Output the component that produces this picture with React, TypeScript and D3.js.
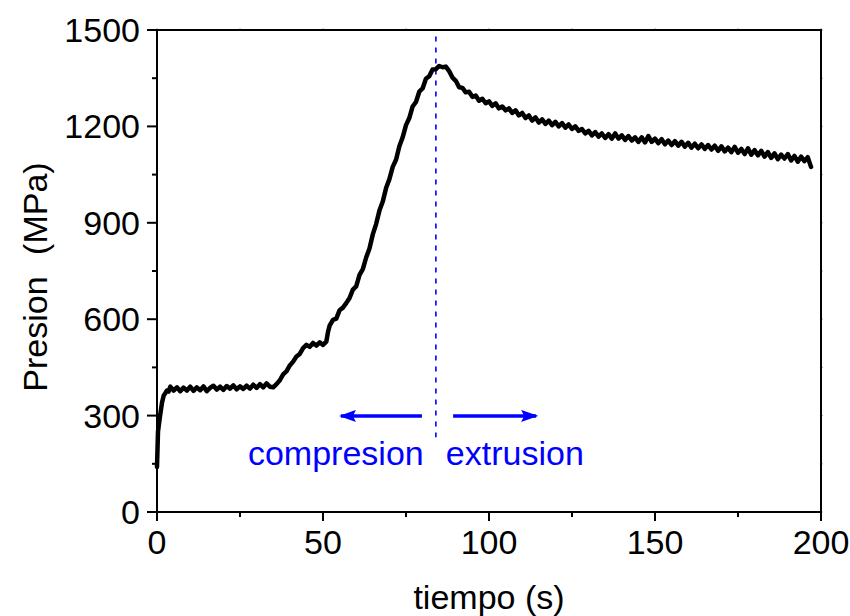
import React from "react";
import * as d3 from "d3";

const timeS: number[] = [
  0, 0.3, 0.8, 1.5, 2, 2.5, 3, 3.5, 4, 5, 6, 7, 8, 9, 10, 11, 12, 13, 14, 15, 16, 17, 18, 19, 20,
  21, 22, 23, 24, 25, 26, 27, 28, 29, 30, 31, 32, 33, 34, 35, 36, 37, 38, 39, 40, 41, 42, 43, 44,
  45, 46, 47, 48, 49, 50, 51, 51.5, 52, 53, 54, 55, 56, 57, 58, 59, 60, 61, 62, 63, 64, 65, 66,
  67, 68, 69, 70, 71, 72, 73, 74, 75, 76, 77, 78, 79, 80, 81, 82, 83, 84, 85, 86, 87, 88, 89, 90,
  91, 92, 93, 94, 95, 96, 97, 98, 99, 100, 101, 102, 103, 104, 105, 106, 107, 108, 109, 110, 111,
  112, 113, 114, 115, 116, 117, 118, 119, 120, 121, 122, 123, 124, 125, 126, 127, 128, 129, 130,
  131, 132, 133, 134, 135, 136, 137, 138, 139, 140, 141, 142, 143, 144, 145, 146, 147, 148, 149,
  150, 151, 152, 153, 154, 155, 156, 157, 158, 159, 160, 161, 162, 163, 164, 165, 166, 167, 168,
  169, 170, 171, 172, 173, 174, 175, 176, 177, 178, 179, 180, 181, 182, 183, 184, 185, 186, 187,
  188, 189, 190, 191, 192, 193, 194, 195, 196, 197,
];

const presionMPa: number[] = [
  140, 250, 290, 340, 362, 370, 378, 375, 390, 378, 388, 376, 387, 378, 390, 377, 388, 379, 391, 376,
  386, 393, 381, 390, 380, 392, 384, 394, 382, 391, 383, 393, 384, 396, 386, 398, 388, 400, 390, 388,
  398, 410, 428, 438, 456, 468, 484, 492, 510, 520, 514, 526, 518, 528, 520, 530, 560, 580, 598, 602,
  628, 636, 650, 666, 692, 702, 738, 756, 792, 820, 864, 896, 938, 966, 1008, 1036, 1074, 1096, 1138,
  1166, 1204, 1226, 1262, 1276, 1308, 1318, 1348, 1356, 1377, 1378, 1388, 1384, 1386, 1372, 1352,
  1342, 1322, 1320, 1306, 1308, 1292, 1296, 1280, 1286, 1272, 1278, 1264, 1272, 1256, 1262, 1250,
  1256, 1242, 1250, 1234, 1242, 1226, 1234, 1218, 1228, 1212, 1222, 1208, 1218, 1204, 1214, 1200,
  1210, 1196, 1206, 1192, 1200, 1186, 1192, 1178, 1186, 1172, 1182, 1168, 1178, 1164, 1176, 1162,
  1178, 1162, 1172, 1158, 1170, 1156, 1166, 1152, 1166, 1150, 1170, 1152, 1162, 1148, 1160, 1144,
  1156, 1142, 1154, 1140, 1152, 1137, 1149, 1134, 1146, 1132, 1144, 1130, 1142, 1128, 1140, 1124,
  1138, 1122, 1134, 1120, 1136, 1118, 1130, 1114, 1132, 1112, 1126, 1110, 1124, 1106, 1120, 1102,
  1116, 1098, 1112, 1100, 1114, 1094, 1108, 1090, 1106, 1092, 1104, 1074,
];

const xTicks: number[] = [0, 50, 100, 150, 200];
const xMinorTicks: number[] = [25, 75, 125, 175];
const yTicks: number[] = [0, 300, 600, 900, 1200, 1500];
const yMinorTicks: number[] = [150, 450, 750, 1050, 1350];

const peakTime = 84;
const arrowLeft = [79.8, 55.4];
const arrowRight = [89.2, 114.2];
const arrowLevel = 299;
const labelCompresion = { text: "compresion", t: 27.4 };
const labelExtrusion = { text: "extrusion", t: 87.0 };
const xTitle = "tiempo (s)";
const yTitle = "Presion (MPa)";

const W = 850;
const H = 616;
const M = { left: 157, right: 821, top: 30, bottom: 512 };
const FONT = "Arial, 'Liberation Sans', sans-serif";
const BLUE = "#0000ff";

export default function App() {
  const x = d3.scaleLinear().domain([0, 200]).range([M.left, M.right]);
  const y = d3.scaleLinear().domain([0, 1500]).range([M.bottom, M.top]);
  const pts: [number, number][] = timeS.map((t, i) => [t, presionMPa[i]]);
  const line = d3
    .line<[number, number]>()
    .x((d) => x(d[0]))
    .y((d) => y(d[1]));

  const arrowY = y(arrowLevel);
  const textY = 465;

  return (
    <svg
      width={W}
      height={H}
      style={{ position: "absolute", left: 0, top: 0, background: "#fff" }}
      fontFamily={FONT}
    >
      <defs>
        <marker
          id="ah"
          viewBox="0 0 17 12"
          refX="15"
          refY="6"
          markerWidth="17"
          markerHeight="12"
          markerUnits="userSpaceOnUse"
          orient="auto"
        >
          <path d="M0,0 L17,6 L0,12 L3,6 Z" fill={BLUE} />
        </marker>
      </defs>
      <rect x={0} y={0} width={W} height={H} fill="#fff" />

      {/* faint mirror ticks on top/right */}
      {xTicks.concat(xMinorTicks).map((t) => (
        <line key={"tt" + t} x1={x(t)} x2={x(t)} y1={M.top} y2={M.top - 2} stroke="#aaa" strokeWidth={1} />
      ))}
      {yTicks.concat(yMinorTicks).map((v) => (
        <line key={"rt" + v} x1={M.right} x2={M.right + 2} y1={y(v)} y2={y(v)} stroke="#aaa" strokeWidth={1} />
      ))}

      {/* frame */}
      <rect
        x={M.left}
        y={M.top}
        width={M.right - M.left}
        height={M.bottom - M.top}
        fill="none"
        stroke="#000"
        strokeWidth={2}
      />

      {/* x ticks */}
      {xTicks.map((t) => (
        <g key={"xt" + t}>
          <line x1={x(t)} x2={x(t)} y1={M.bottom} y2={M.bottom + 9} stroke="#000" strokeWidth={2} />
          <text x={x(t)} y={554} textAnchor="middle" fontSize={34} fill="#000">
            {t}
          </text>
        </g>
      ))}
      {xMinorTicks.map((t) => (
        <line key={"xm" + t} x1={x(t)} x2={x(t)} y1={M.bottom} y2={M.bottom + 5} stroke="#000" strokeWidth={2} />
      ))}

      {/* y ticks */}
      {yTicks.map((v) => (
        <g key={"yt" + v}>
          <line x1={M.left} x2={M.left - 10} y1={y(v)} y2={y(v)} stroke="#000" strokeWidth={2} />
          <text x={140} y={y(v) + 12} textAnchor="end" fontSize={34} fill="#000">
            {v}
          </text>
        </g>
      ))}
      {yMinorTicks.map((v) => (
        <line key={"ym" + v} x1={M.left} x2={M.left - 5} y1={y(v)} y2={y(v)} stroke="#000" strokeWidth={2} />
      ))}

      {/* axis titles */}
      <text x={(M.left + M.right) / 2} y={609} textAnchor="middle" fontSize={34} fill="#000">
        {xTitle}
      </text>
      <text
        transform={`translate(47, 277) rotate(-90)`}
        textAnchor="middle"
        fontSize={34}
        fill="#000"
        style={{ wordSpacing: "12px" }}
      >
        {yTitle}
      </text>

      {/* dashed vertical line */}
      <line
        x1={x(peakTime)}
        x2={x(peakTime)}
        y1={y(1480)}
        y2={y(233)}
        stroke={BLUE}
        strokeWidth={1.6}
        strokeDasharray="5,6"
      />

      {/* data curve */}
      <path d={line(pts) ?? ""} fill="none" stroke="#000" strokeWidth={4.5} strokeLinejoin="round" strokeLinecap="round" />

      {/* arrows */}
      <line
        x1={x(arrowLeft[0])}
        x2={x(arrowLeft[1])}
        y1={arrowY}
        y2={arrowY}
        stroke={BLUE}
        strokeWidth={3.5}
        markerEnd="url(#ah)"
      />
      <line
        x1={x(arrowRight[0])}
        x2={x(arrowRight[1])}
        y1={arrowY}
        y2={arrowY}
        stroke={BLUE}
        strokeWidth={3.5}
        markerEnd="url(#ah)"
      />
      <text x={x(labelCompresion.t)} y={textY} fontSize={34} fill={BLUE}>
        {labelCompresion.text}
      </text>
      <text x={x(labelExtrusion.t)} y={textY} fontSize={34} fill={BLUE}>
        {labelExtrusion.text}
      </text>
    </svg>
  );
}
